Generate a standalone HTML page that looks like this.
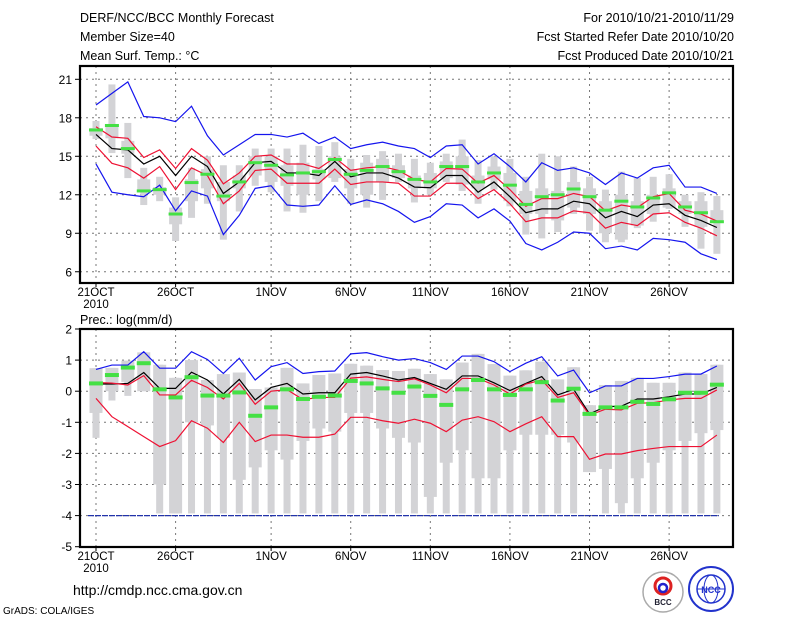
<!DOCTYPE html>
<html><head><meta charset="utf-8"><style>
html,body{margin:0;padding:0;background:#fff;}
svg{display:block;font-family:"Liberation Sans",sans-serif;}
</style></head><body>
<svg id="chart" width="800" height="618" viewBox="0 0 800 618" xmlns="http://www.w3.org/2000/svg">
<rect width="800" height="618" fill="#fff"/>
<g font-size="12.5" fill="#000">
<text x="80" y="22">DERF/NCC/BCC Monthly Forecast</text>
<text x="80" y="41">Member Size=40</text>
<text x="80" y="60">Mean Surf. Temp.: °C</text>
<text x="734" y="22" text-anchor="end">For 2010/10/21-2010/11/29</text>
<text x="734" y="41" text-anchor="end">Fcst Started Refer Date 2010/10/20</text>
<text x="734" y="60" text-anchor="end">Fcst Produced Date 2010/10/21</text>
<text x="80" y="324">Prec.: log(mm/d)</text>
<text x="73" y="595" font-size="14">http://cmdp.ncc.cma.gov.cn</text>
<text x="3" y="614" font-size="10">GrADS: COLA/IGES</text>
</g>
<g>
<circle cx="663" cy="592" r="20" fill="#fff" stroke="#aaa" stroke-width="1.5"/>
<circle cx="663" cy="586" r="8" fill="none" stroke="#d22" stroke-width="3"/>
<circle cx="663" cy="588" r="4" fill="none" stroke="#22c" stroke-width="2.5"/>
<text x="663" y="605" font-size="8" text-anchor="middle" font-weight="bold" fill="#223">BCC</text>
</g>
<g>
<circle cx="711" cy="589" r="22" fill="#fff" stroke="#23c" stroke-width="2"/>
<circle cx="711" cy="589" r="14" fill="none" stroke="#23c" stroke-width="1.5"/>
<ellipse cx="711" cy="589" rx="7" ry="14" fill="none" stroke="#23c" stroke-width="1"/>
<line x1="697" y1="589" x2="725" y2="589" stroke="#23c"/>
<text x="711" y="593" font-size="9" text-anchor="middle" font-weight="bold" fill="#23c">NCC</text>
</g>
<g id="top"></g>
<g id="bot"></g>
</svg>
<script>
const days = Array.from({length:40},(_,i)=>i);
const xTickDays=[0,5,11,16,21,26,31,36];
const xTickLabels=["21OCT","26OCT","1NOV","6NOV","11NOV","16NOV","21NOV","26NOV"];
// Temperature panel
const tTicks=[6,9,12,15,18,21];
const tBlueHi=[19.0,19.9,20.8,18.1,18.0,17.7,18.9,16.6,15.1,15.9,16.7,16.7,16.5,16.8,16.0,16.5,15.6,15.9,16.1,15.8,15.6,14.9,15.8,15.9,14.4,15.2,14.2,13.0,14.5,13.9,14.1,13.7,12.8,13.7,13.3,14.1,14.3,12.6,12.6,12.1];
const tBlueLo=[14.4,12.2,12.0,11.85,12.75,10.75,12.3,11.9,8.9,10.4,12.5,12.7,11.2,11.1,11.2,12.7,11.25,11.6,11.3,10.7,9.85,10.3,11.3,11.2,10.2,10.9,9.95,8.2,7.7,8.3,9.1,9.0,7.8,8.0,7.7,8.6,8.5,8.3,7.4,6.95];
const tMean=[16.7,15.6,15.5,14.4,15.0,13.5,15.0,14.2,12.1,13.0,14.5,14.6,13.7,13.7,13.5,14.6,13.4,13.7,13.7,13.3,12.6,12.55,13.5,13.5,12.2,13.0,11.85,10.6,10.9,10.9,11.5,11.3,10.2,10.7,10.3,11.2,11.3,10.4,10.0,9.45];
const tRedHi=[17.3,16.5,16.4,14.9,15.5,14.05,15.6,14.7,12.85,13.7,15.0,15.1,14.4,14.4,14.05,14.9,13.9,14.1,14.2,13.9,13.2,13.0,14.05,14.0,12.9,13.5,12.4,11.1,11.7,11.7,12.1,11.85,10.75,11.2,11.0,11.85,12.1,10.8,10.5,9.95];
const tRedLo=[15.8,14.45,14.1,13.3,14.2,12.4,14.1,13.5,11.3,12.3,13.9,14.0,12.9,12.9,12.9,14.0,12.8,13.0,13.0,12.9,11.9,11.9,12.9,12.9,11.7,12.4,11.3,9.9,10.2,10.2,10.75,10.6,9.4,9.85,9.6,10.5,10.6,9.85,9.4,8.8];
const tObs=[17.05,17.4,15.6,12.3,12.4,10.5,12.95,13.6,11.9,13.0,14.5,14.3,13.55,13.7,13.8,14.75,13.6,13.9,14.2,13.8,13.2,13.0,14.2,14.2,13.0,13.7,12.75,11.25,11.85,12.0,12.45,11.85,10.8,11.5,11.05,11.75,12.15,11.05,10.6,9.9];
const tBoxHi=[17.75,20.6,17.6,14.1,13.4,11.8,14.1,15.0,14.3,14.3,15.6,15.6,15.6,15.9,15.8,16.1,14.8,15.1,15.4,15.2,14.8,14.5,15.2,16.3,14.7,15.0,14.8,13.4,15.2,15.0,14.2,13.4,12.4,13.8,13.3,13.4,13.6,12.0,12.2,11.9];
const tBoxQ3=[17.2,17.5,16.2,13.2,12.6,11.0,13.2,14.0,13.0,13.5,15.0,15.0,14.3,14.5,14.0,15.0,14.0,14.5,14.8,14.3,13.5,13.7,14.6,15.0,13.5,14.2,13.7,12.3,12.5,12.3,13.0,12.5,11.5,12.0,11.5,12.0,12.5,11.5,11.5,10.8];
const tBoxQ1=[16.6,16.4,15.2,12.2,12.0,9.7,11.5,12.5,11.5,12.5,13.5,13.0,12.7,12.0,13.2,13.3,12.5,12.0,13.0,13.3,12.5,12.5,13.3,12.8,12.5,13.2,11.5,10.5,10.5,10.0,11.0,10.5,9.0,8.5,9.6,10.5,11.0,10.5,9.5,10.0];
const tBoxLo=[16.35,15.25,13.3,11.2,11.5,8.4,10.2,11.3,8.5,10.7,12.7,12.2,10.7,10.6,11.5,13.0,11.3,11.0,11.6,13.0,11.4,12.0,13.0,12.3,11.3,12.4,11.1,8.9,8.6,9.1,10.5,9.2,8.3,8.3,9.4,9.9,10.9,9.5,7.8,7.4];
// Precip panel
const pTicks=[-5,-4,-3,-2,-1,0,1,2];
const pBlueHi=[0.70,0.84,0.84,1.27,0.74,0.74,1.27,1.02,0.57,1.06,0.36,0.79,0.92,0.57,0.63,0.65,1.2,1.24,1.11,1.0,1.05,0.92,0.70,1.13,1.13,0.95,0.63,0.90,1.11,0.49,0.68,-0.05,0.17,0.17,0.41,0.41,0.47,0.55,0.55,0.81];
const pMean=[0.23,0.23,0.25,0.6,0.09,0.09,0.61,0.36,-0.09,0.38,-0.28,0.12,0.25,-0.09,-0.05,-0.05,0.55,0.6,0.49,0.36,0.44,0.25,0.06,0.49,0.49,0.27,0.02,0.25,0.47,-0.12,0.06,-0.73,-0.5,-0.48,-0.25,-0.25,-0.18,-0.09,-0.09,0.12];
const pRedHi=[0.28,0.26,0.2,0.5,-0.12,-0.12,0.35,0.12,-0.25,0.25,-0.42,0.0,0.05,-0.27,-0.2,-0.2,0.42,0.46,0.38,0.31,0.4,0.2,-0.05,0.41,0.41,0.2,-0.09,0.23,0.36,-0.2,-0.05,-0.77,-0.58,-0.6,-0.39,-0.37,-0.28,-0.23,-0.23,0.04];
const pRedLo=[-0.23,-0.82,-1.14,-1.46,-1.78,-1.59,-0.95,-1.19,-1.65,-1.0,-1.62,-1.41,-1.41,-1.48,-1.48,-1.38,-0.84,-0.84,-0.95,-1.03,-0.9,-1.03,-1.3,-0.93,-0.82,-0.98,-1.3,-1.05,-0.82,-1.46,-1.46,-2.19,-2.02,-2.02,-1.91,-1.84,-1.78,-1.78,-1.78,-1.41];
const pObs=[0.25,0.52,0.76,0.9,0.06,-0.2,0.45,-0.14,-0.14,-0.04,-0.79,-0.52,0.06,-0.25,-0.18,-0.14,0.33,0.25,0.09,-0.05,0.15,-0.15,-0.44,0.06,0.36,0.06,-0.12,0.06,0.29,-0.3,0.08,-0.73,-0.52,-0.52,-0.34,-0.41,-0.26,-0.05,-0.05,0.21];
const pBoxHi=[0.74,0.75,0.98,1.25,0.85,0.43,1.0,0.36,0.55,0.6,0.07,0.12,0.75,0.25,0.52,0.57,0.88,0.82,0.68,0.65,0.72,0.55,0.38,0.92,1.2,0.87,0.5,0.67,0.95,0.38,0.77,-0.45,0.2,0.33,0.43,0.27,0.27,0.6,0.55,0.85];
const pBoxQ1=[-0.7,0,0.3,0,-3.0,-3.93,-1.0,-1.1,-1.5,-2.85,-2.45,-1.9,-2.2,-1.6,-1.2,-1.3,-0.7,-0.7,-1.2,-1.5,-1.65,-3.4,-2.3,-1.9,-2.8,-2.8,-1.9,-1.4,-1.4,-1.4,-1.65,-2.6,-2.5,-3.6,-2.8,-2.3,-1.9,-1.6,-1.35,-1.25];
const pBoxLo=[-1.5,-0.3,-0.15,0,-3.93,-3.93,-3.93,-3.93,-3.93,-3.93,-3.93,-3.93,-3.93,-3.93,-3.93,-3.93,-3.93,-3.93,-3.93,-3.93,-3.93,-3.93,-3.93,-3.93,-3.93,-3.93,-3.93,-3.93,-3.93,-3.93,-3.93,-2.6,-3.93,-3.93,-3.93,-3.93,-3.93,-3.93,-3.93,-3.93];

const NS='http://www.w3.org/2000/svg';
const L=80,R=733;
const xs=d=>96+d*15.92;
const yT=v=>79.3+(21-v)*12.83;
const yP=v=>329+(2-v)*31.1;
function mk(tag,attrs,parent){const e=document.createElementNS(NS,tag);for(const k in attrs)e.setAttribute(k,attrs[k]);parent.appendChild(e);return e;}

function panel(g,top,bot,ticks,yf,boxes,lines,obs,obsH,name){
  // grid
  ticks.forEach(t=>{
    const y=yf(t);
    if(y>top+1&&y<bot-1){const gl=mk('line',{x1:L,x2:R,y1:y,y2:y,stroke:'#777','stroke-dasharray':'2,4','stroke-width':1},g);
    
    }
    const tk=mk('line',{x1:L-5,x2:L,y1:y,y2:y,stroke:'#000'},g);
    
    
    const tx=mk('text',{x:L-8,y:y+4.5,'font-size':12,'text-anchor':'end'},g);tx.textContent=t;
    
    
  });
  xTickDays.forEach((d,i)=>{
    const x=xs(d);
    const gl=mk('line',{x1:x,x2:x,y1:top,y2:bot,stroke:'#777','stroke-dasharray':'2,4'},g);
    
    
    const tk=mk('line',{x1:x,x2:x,y1:bot,y2:bot+4,stroke:'#000'},g);
    
    
    const tx=mk('text',{x:x,y:bot+13,'font-size':11.5,'text-anchor':'middle'},g);tx.textContent=xTickLabels[i];
    
    
  });
  const yr=mk('text',{x:xs(0),y:bot+25,'font-size':11.5,'text-anchor':'middle'},g);yr.textContent='2010';
  
  
  // boxes
  days.forEach(d=>{
    const x=xs(d),b=boxes;
    const whisk=mk('rect',{x:x-3.5,width:7,y:yf(b.hi[d]),height:Math.max(0,yf(b.lo[d])-yf(b.hi[d])),fill:'#d3d3d6'},g);
    
    
    const bx=mk('rect',{x:x-6.5,width:13,y:yf(b.q3[d]),height:Math.max(0,yf(b.q1[d])-yf(b.q3[d])),fill:'#d3d3d6'},g);
    
    
  });
  if(name==='precip'){
    const bl=mk('line',{x1:xs(0)-8,x2:xs(39)+2,y1:yf(-4),y2:yf(-4),stroke:'#2233aa','stroke-width':1.2,'stroke-dasharray':'6,1'},g);
    
    
  }
  lines.forEach(([arr,col,nm])=>{
    const p=mk('polyline',{points:arr.map((v,d)=>xs(d)+','+yf(v)).join(' '),fill:'none',stroke:col,'stroke-width':1.2},g);
    
    
  });
  days.forEach(d=>{
    const r=mk('rect',{x:xs(d)-7,width:14,y:yf(obs[d])-obsH/2,height:obsH,fill:'#44e044'},g);
    
    
  });
  const fr=mk('rect',{x:L,y:top,width:R-L,height:bot-top,fill:'none',stroke:'#000','stroke-width':2.2},g);
  
  
}
const gt=document.getElementById('top'),gb=document.getElementById('bot');




panel(gt,66,283,tTicks,yT,{hi:tBoxHi,q3:tBoxQ3,q1:tBoxQ1,lo:tBoxLo},
 [[tBlueHi,'#1515ee','temp-max-line'],[tBlueLo,'#1515ee','temp-min-line'],[tRedHi,'#ee1133','temp-upper-line'],[tRedLo,'#ee1133','temp-lower-line'],[tMean,'#000','temp-mean-line']],tObs,3,'temp');
panel(gb,329,547,pTicks,yP,{hi:pBoxHi,q3:pBoxHi,q1:pBoxQ1,lo:pBoxLo},
 [[pBlueHi,'#1515ee','precip-max-line'],[pRedLo,'#ee1133','precip-lower-line'],[pMean,'#000','precip-mean-line'],[pRedHi,'#ee1133','precip-upper-line']],pObs,4,'precip');
</script>
</body></html>
